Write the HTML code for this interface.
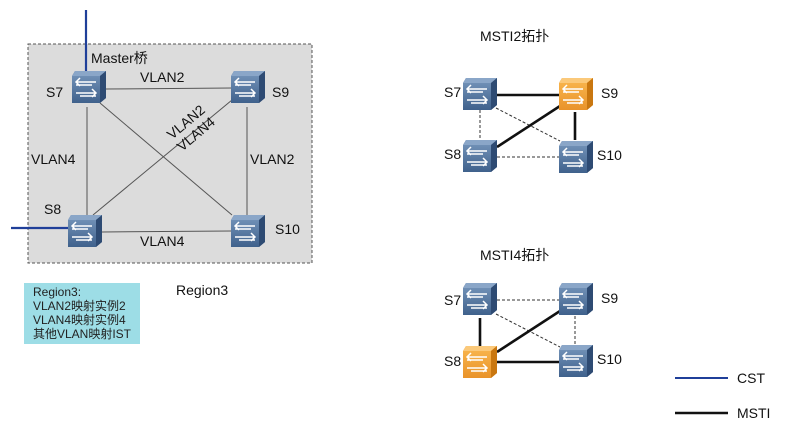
<!DOCTYPE html>
<html><head><meta charset="utf-8"><style>
body{margin:0;background:#fff;}
svg{display:block;font-family:"Liberation Sans","Noto Sans CJK SC",sans-serif;}
</style></head><body>
<svg width="785" height="436" viewBox="0 0 785 436" xmlns="http://www.w3.org/2000/svg">
<defs>
<linearGradient id="bf" x1="0" y1="0" x2="0" y2="1"><stop offset="0" stop-color="#6f8fb5"/><stop offset="1" stop-color="#3f618c"/></linearGradient>
<linearGradient id="of" x1="0" y1="0" x2="0" y2="1"><stop offset="0" stop-color="#f7b24a"/><stop offset="1" stop-color="#e9932a"/></linearGradient>
<g id="arr" fill="none" stroke="#fff" stroke-width="1.5">
<path d="M4 11 H24 M8 7 L4 11 L8 15 M4 14 H20"/>
<path d="M24 22 H4 M20 18 L24 22 L20 26 M24 25 H8"/>
</g>
<g id="sw">
<polygon points="3,0 34,0 34,27 28,32 0,32 0,5" fill="#4b6b95"/>
<polygon points="3,0 34,0 28,5 0,5" fill="#8aa6c8"/>
<polygon points="28,5 34,0 34,27 28,32" fill="#2e4b73"/>
<rect x="0" y="5" width="28" height="27" fill="url(#bf)"/>
<use href="#arr"/>
</g>
<g id="swo">
<polygon points="3,0 34,0 34,27 28,32 0,32 0,5" fill="#e08a20"/>
<polygon points="3,0 34,0 28,5 0,5" fill="#fbc97a"/>
<polygon points="28,5 34,0 34,27 28,32" fill="#c97710"/>
<rect x="0" y="5" width="28" height="27" fill="url(#of)"/>
<use href="#arr"/>
</g>
</defs>

<rect x="28" y="44" width="284" height="219" fill="#dcdcdc" stroke="#555" stroke-width="1" stroke-dasharray="3,2"/>
<g stroke="#555" stroke-width="1">
<line x1="105" y1="89" x2="232" y2="88"/>
<line x1="87" y1="107" x2="87" y2="215"/>
<line x1="247" y1="107" x2="247" y2="215"/>
<line x1="102" y1="232" x2="231" y2="231"/>
<line x1="100" y1="103" x2="232" y2="215"/>
<line x1="93" y1="215" x2="232" y2="100"/>
</g>
<line x1="86" y1="10" x2="86" y2="72" stroke="#1f3f99" stroke-width="2.2"/>
<line x1="11" y1="228" x2="70" y2="228" stroke="#1f3f99" stroke-width="2.2"/>
<use href="#sw" x="72" y="71"/>
<use href="#sw" x="231" y="71"/>
<use href="#sw" x="68" y="215"/>
<use href="#sw" x="231" y="215"/>
<g font-size="14" fill="#111">
<text x="91" y="63">Master桥</text>
<text x="140" y="82">VLAN2</text>
<text x="46" y="97">S7</text>
<text x="272" y="97">S9</text>
<text x="31" y="164">VLAN4</text>
<text x="250" y="164">VLAN2</text>
<text x="44" y="214">S8</text>
<text x="275" y="234">S10</text>
<text x="140" y="246">VLAN4</text>
<text x="0" y="0" transform="translate(172,140) rotate(-40)">VLAN2</text>
<text x="0" y="0" transform="translate(182,152) rotate(-40)">VLAN4</text>
<text x="176" y="295">Region3</text>
</g>
<rect x="24" y="283" width="116" height="61" fill="#9ddde6"/>
<g font-size="12" fill="#222">
<text x="33" y="296">Region3:</text>
<text x="33" y="310">VLAN2映射实例2</text>
<text x="33" y="324">VLAN4映射实例4</text>
<text x="33" y="338">其他VLAN映射IST</text>
</g>

<text x="480" y="41" font-size="14" fill="#111">MSTI2拓扑</text>
<g stroke="#333" stroke-width="1" stroke-dasharray="3,2">
<line x1="480" y1="110" x2="480" y2="140"/>
<line x1="496" y1="108" x2="560" y2="141"/>
<line x1="497" y1="157" x2="559" y2="157"/>
</g>
<g stroke="#111" stroke-width="2.6">
<line x1="497" y1="95" x2="559" y2="95"/>
<line x1="497" y1="147" x2="560" y2="106"/>
<line x1="575" y1="112" x2="575" y2="140"/>
</g>
<use href="#sw" x="463" y="78"/>
<use href="#swo" x="559" y="78"/>
<use href="#sw" x="463" y="140"/>
<use href="#sw" x="559" y="141"/>
<g font-size="14" fill="#111">
<text x="444" y="97">S7</text><text x="601" y="98">S9</text>
<text x="444" y="159">S8</text><text x="597" y="160">S10</text>
</g>

<text x="480" y="260" font-size="14" fill="#111">MSTI4拓扑</text>
<g stroke="#333" stroke-width="1" stroke-dasharray="3,2">
<line x1="497" y1="300" x2="559" y2="300"/>
<line x1="496" y1="314" x2="560" y2="347"/>
<line x1="575" y1="316" x2="575" y2="345"/>
</g>
<g stroke="#111" stroke-width="2.6">
<line x1="480" y1="318" x2="480" y2="346"/>
<line x1="497" y1="352" x2="560" y2="311"/>
<line x1="497" y1="362" x2="559" y2="362"/>
</g>
<use href="#sw" x="463" y="283"/>
<use href="#sw" x="559" y="283"/>
<use href="#swo" x="463" y="346"/>
<use href="#sw" x="559" y="345"/>
<g font-size="14" fill="#111">
<text x="444" y="305">S7</text><text x="601" y="303">S9</text>
<text x="444" y="366">S8</text><text x="597" y="364">S10</text>
</g>

<line x1="675" y1="378" x2="728" y2="378" stroke="#1f3f99" stroke-width="2"/>
<text x="737" y="383" font-size="14" fill="#111">CST</text>
<line x1="675" y1="413" x2="728" y2="413" stroke="#111" stroke-width="2.6"/>
<text x="737" y="418" font-size="14" fill="#111">MSTI</text>
</svg>
</body></html>
